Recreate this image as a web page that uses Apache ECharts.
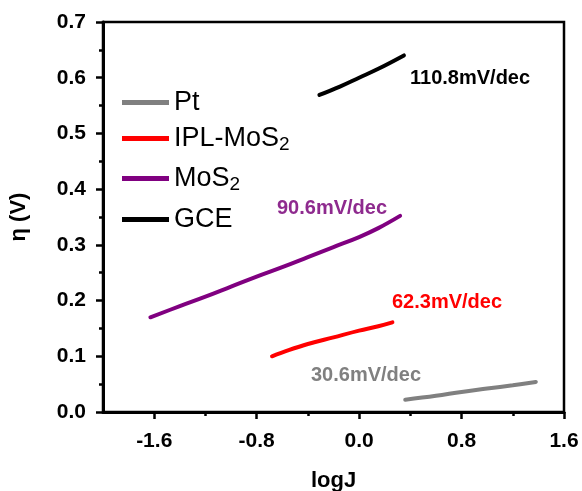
<!DOCTYPE html>
<html><head><meta charset="utf-8">
<script src="https://cdn.jsdelivr.net/npm/echarts@6/dist/echarts.min.js"></script>
<style>html,body{margin:0;padding:0;background:#fff}#c{width:582px;height:491px}</style>
</head><body><div id="c"></div>
<script>
// ---- data ----
const seriesNames = ['Pt', 'IPL-MoS2', 'MoS2', 'GCE'];
const seriesColors = ['#808080', '#ff0000', '#800080', '#000000'];

const ptLogJ  = [0.36, 0.6, 0.8, 1.0, 1.2, 1.38];
const ptEta   = [0.022, 0.029, 0.036, 0.042, 0.048, 0.054];

const iplLogJ = [-0.68, -0.55, -0.4, -0.2, 0.0, 0.15, 0.26];
const iplEta  = [0.100, 0.111, 0.122, 0.134, 0.146, 0.154, 0.161];

const mosLogJ = [-1.63, -1.4, -1.2, -1.0, -0.8, -0.6, -0.4, -0.2, 0.0, 0.15, 0.32];
const mosEta  = [0.170, 0.190, 0.207, 0.225, 0.243, 0.260, 0.278, 0.296, 0.314, 0.330, 0.352];

const gceLogJ = [-0.31, -0.15, 0.0, 0.15, 0.35];
const gceEta  = [0.569, 0.584, 0.600, 0.616, 0.640];

const xTickLabels = [-1.6, -0.8, 0.0, 0.8, 1.6];
const xMinorTicks = [-1.2, -0.4, 0.4, 1.2];
const slopeLabels = ['30.6mV/dec', '62.3mV/dec', '90.6mV/dec', '110.8mV/dec'];
const slopeColors = ['#808080', '#ff0000', '#8e2a8e', '#000000'];

// ---- chart ----
const F = 'Arial, "Liberation Sans", sans-serif';
const chart = echarts.init(document.getElementById('c'), null, {renderer: 'canvas'});
function pair(xs, ys) { return xs.map((x, i) => [x, ys[i]]); }
function fmt(v) { return Math.abs(v) < 1e-9 ? '0.0' : v.toFixed(1); }
function legendFmt(name) { return name.replace(/2$/, '{sub|2}'); }
const allData = [pair(ptLogJ, ptEta), pair(iplLogJ, iplEta), pair(mosLogJ, mosEta), pair(gceLogJ, gceEta)];

const gridBox = {left: 103, right: 18, top: 22, bottom: 79, outerBoundsMode: 'none', containLabel: false};
const labelStyle = {color: '#000', fontSize: 21, fontWeight: 'bold', fontFamily: F};
const nameStyle = {color: '#000', fontSize: 22, fontWeight: 'bold', fontFamily: F};
const legendTops = [89, 125, 165, 206];

const option = {
  animation: false,
  backgroundColor: '#fff',
  grid: [
    Object.assign({show: true, borderColor: '#000', borderWidth: 2.5, backgroundColor: 'transparent'}, gridBox),
    Object.assign({show: false}, gridBox)
  ],
  xAxis: [
    {
      gridIndex: 0, type: 'value', min: -2.0, max: 1.6, interval: 0.4,
      axisLine: {show: true, onZero: false, lineStyle: {color: '#000', width: 3}},
      axisTick: {show: true, customValues: xTickLabels, length: 7, lineStyle: {color: '#000', width: 2.5}},
      axisLabel: Object.assign({customValues: xTickLabels, formatter: fmt, margin: 19}, labelStyle),
      splitLine: {show: false},
      name: 'logJ', nameLocation: 'middle', nameGap: 58, nameTextStyle: nameStyle
    },
    {
      gridIndex: 1, type: 'value', min: -2.0, max: 1.6, interval: 0.4,
      axisLine: {show: false},
      axisTick: {show: true, customValues: xMinorTicks, length: 4, lineStyle: {color: '#000', width: 2.5}},
      axisLabel: {show: false}, splitLine: {show: false}
    }
  ],
  yAxis: [
    {
      gridIndex: 0, type: 'value', min: 0, max: 0.7, interval: 0.1,
      axisLine: {show: true, onZero: false, lineStyle: {color: '#000', width: 3}},
      axisTick: {show: true, length: 7, lineStyle: {color: '#000', width: 2.5}},
      minorTick: {show: true, splitNumber: 2, length: 4, lineStyle: {color: '#000', width: 2.5}},
      axisLabel: Object.assign({formatter: fmt, margin: 17}, labelStyle),
      splitLine: {show: false},
      name: 'η (V)', nameLocation: 'middle', nameGap: 73, nameRotate: 90, nameTextStyle: nameStyle
    },
    {gridIndex: 1, type: 'value', min: 0, max: 0.7, show: false}
  ],
  legend: seriesNames.map((n, i) => ({
    orient: 'vertical', left: 122, top: legendTops[i], padding: 0,
    data: [n], icon: 'rect', itemWidth: 47, itemHeight: 5,
    formatter: legendFmt,
    textStyle: {color: '#000', fontSize: 27, fontFamily: F,
      rich: {sub: {fontSize: 19, fontFamily: F, color: '#000', padding: [13, 0, 0, 0]}}}
  })),
  series: seriesNames.map((n, i) => ({
    name: n, type: 'line', xAxisIndex: 0, yAxisIndex: 0,
    data: allData[i], showSymbol: false, smooth: 0.4,
    lineStyle: {width: 4, color: seriesColors[i], cap: 'round'},
    itemStyle: {color: seriesColors[i]}
  })),
  graphic: [
    {type: 'text', x: 311, y: 375, style: {text: slopeLabels[0], fill: slopeColors[0], font: 'bold 20px ' + F, verticalAlign: 'middle'}},
    {type: 'text', x: 392, y: 302, style: {text: slopeLabels[1], fill: slopeColors[1], font: 'bold 20px ' + F, verticalAlign: 'middle'}},
    {type: 'text', x: 277, y: 208, style: {text: slopeLabels[2], fill: slopeColors[2], font: 'bold 20px ' + F, verticalAlign: 'middle'}},
    {type: 'text', x: 410, y: 78, style: {text: slopeLabels[3], fill: slopeColors[3], font: 'bold 20px ' + F, verticalAlign: 'middle'}}
  ]
};
chart.setOption(option);
</script>
</body></html>
